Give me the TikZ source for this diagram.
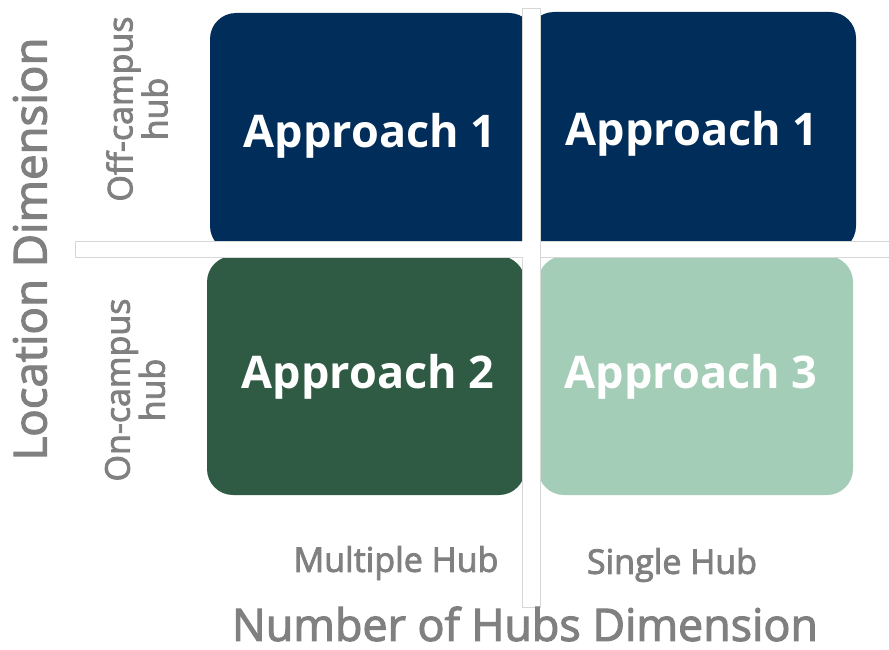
\documentclass[tikz,border=0pt]{standalone}
\usepackage{fontspec}
\setmainfont{Open Sans}
\newfontfamily\semib[FakeBold=2.5]{Open Sans}
\definecolor{navy}{RGB}{0,45,90}
\definecolor{dgreen}{RGB}{47,90,67}
\definecolor{lgreen}{RGB}{163,205,182}
\definecolor{txtgray}{RGB}{128,128,128}
\definecolor{bargray}{RGB}{215,215,215}
\begin{document}
\begin{tikzpicture}[x=1pt,y=-1pt,
  quad/.style={rounded corners=26pt},
  bar/.style={fill=white,draw=bargray,line width=0.8pt},
  apptext/.style={font=\fontsize{45}{50}\selectfont\bfseries,text=white},
  axtext/.style={font=\fontsize{44.8}{48}\selectfont\semib,text=txtgray},
  subtext/.style={font=\fontsize{34}{30}\selectfont\semib,text=txtgray,align=center}]
\useasboundingbox (0,0) rectangle (889,650);
% quadrant boxes
\fill[quad,navy] (210,13) rectangle (535,252);
\fill[quad,navy] (528,12) rectangle (856,252);
\fill[quad,dgreen] (207,256) rectangle (525,495);
\fill[quad,lgreen] (538,256) rectangle (853,495);
% dividing bars
\draw[bar] (75,241) rectangle (889,257);
\draw[bar] (522,8) rectangle (540,607);
\fill[white] (522.4,241.4) rectangle (539.6,256.6);
% quadrant labels
\node[apptext] (a1) at (370,136) {Approach 1};
\node[apptext] (a1b) at (692,134) {Approach 1};
\node[apptext] (a2) at (368,377) {Approach 2};
\node[apptext] (a3) at (691,377) {Approach 3};
% axis labels
\node[axtext,rotate=90,font=\fontsize{45.6}{48}\selectfont\semib] (ly) at (30,249) {Location Dimension};
\node[axtext,inner sep=0pt] (lx) at (525,624) {Number of Hubs Dimension};
\node[subtext,rotate=90] (off) at (137,109) {Off-campus\\hub};
\node[subtext,rotate=90] (on) at (135,390) {On-campus\\hub};
\node[subtext] (mh) at (396,563) {Multiple Hub};
\node[subtext] (sh) at (672,565) {Single Hub};
\end{tikzpicture}
\end{document}
